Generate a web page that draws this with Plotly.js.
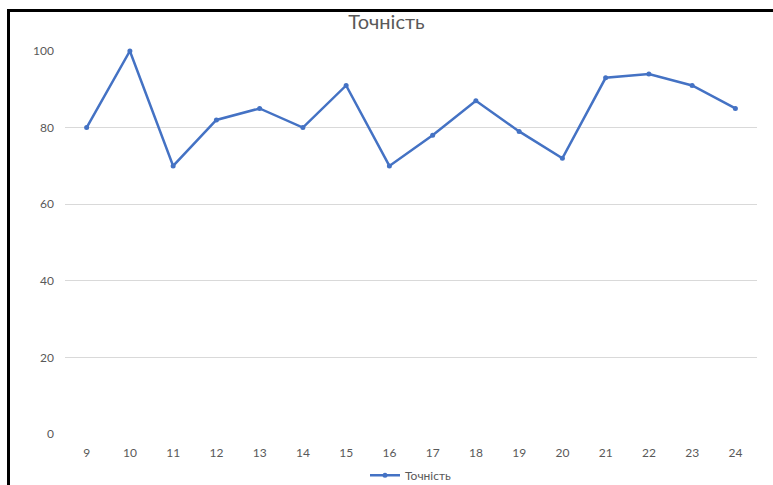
<!DOCTYPE html>
<html>
<head>
<meta charset="utf-8">
<script src="https://cdn.plot.ly/plotly-3.0.1.min.js"></script>
<style>
html,body{margin:0;padding:0;background:#fff;}
#wrap{position:relative;width:773px;height:485px;overflow:hidden;}
#chart{position:absolute;left:0;top:0;width:773px;height:485px;}
#bt{position:absolute;left:7px;top:9px;width:766px;height:3px;background:#000;}
#bl{position:absolute;left:7px;top:9px;width:3px;height:476px;background:#000;}
</style>
</head>
<body>
<div id="wrap"><div id="chart"></div><div id="bt"></div><div id="bl"></div></div>
<script>
const categories = ["9","10","11","12","13","14","15","16","17","18","19","20","21","22","23","24"];
const accuracy = [80,100,70,82,85,80,91,70,78,87,79,72,93,94,91,85];
const yTicks = [0,20,40,60,80,100];
const seriesName = "Точність";
const titleText = "Точність";

const font = "Lato, 'Liberation Sans', Arial, sans-serif";
const trace = {
  type: 'scatter', mode: 'lines+markers',
  x: categories, y: accuracy, name: seriesName,
  line: {color: '#4472C4', width: 2.5},
  marker: {color: '#4472C4', size: 5},
  cliponaxis: false,
  showlegend: true
};
const layout = {
  width: 773, height: 485,
  margin: {l: 65, r: 16, t: 51, b: 51, autoexpand: false},
  paper_bgcolor: '#fff', plot_bgcolor: '#fff',
  font: {family: font, color: '#595959', size: 12},
  title: {text: titleText, font: {family: font, size: 20, color: '#595959'}, x: 0.5, xanchor: 'center', y: 0.955, yanchor: 'middle'},
  xaxis: {type: 'category', range: [-0.5, 15.5], showgrid: false, zeroline: false, showline: false, ticks: '', tickfont: {size: 12, color: '#595959'}, ticklabelstandoff: 10, fixedrange: true, automargin: false},
  yaxis: {range: [0, 100], tickvals: yTicks, showgrid: true, gridcolor: '#D9D9D9', gridwidth: 1, zeroline: false, showline: false, ticks: '', tickfont: {size: 12, color: '#595959'}, ticklabelstandoff: 10, fixedrange: true, automargin: false},
  showlegend: true,
  legend: {orientation: 'h', x: 0.5, xanchor: 'center', yref: 'container', y: 0.02, yanchor: 'middle', font: {size: 12, color: '#595959'}, itemwidth: 30}
};
Plotly.newPlot('chart', [trace], layout, {staticPlot: true, displayModeBar: false});
</script>
</body>
</html>
